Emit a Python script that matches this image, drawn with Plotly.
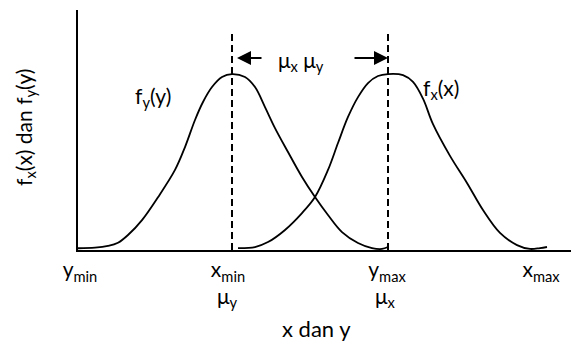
import plotly.graph_objects as go

# fy(y) curve (left bell)
fy_x = [0, 17, 30, 40, 50, 64, 80, 97, 107, 117, 125, 134, 144, 154, 167, 177, 187, 197, 210, 224, 237, 250, 264, 280, 294, 304, 310]
fy_y = [0.01, 0.013, 0.023, 0.041, 0.085, 0.17, 0.30, 0.455, 0.585, 0.739, 0.841, 0.926, 0.983, 1.0, 0.983, 0.926, 0.8125, 0.693, 0.557, 0.415, 0.301, 0.199, 0.102, 0.04, 0.011, 0.006, 0.017]

# fx(x) curve (right bell)
fx_x = [160, 177, 190, 207, 224, 237, 250, 260, 270, 280, 290, 300, 310, 325, 335, 345, 355, 372, 389, 405, 422, 439, 452, 462, 469]
fx_y = [0.011, 0.017, 0.045, 0.114, 0.21, 0.301, 0.455, 0.608, 0.756, 0.869, 0.949, 0.989, 1.0, 0.994, 0.955, 0.860, 0.715, 0.535, 0.381, 0.227, 0.097, 0.028, 0.006, 0.011, 0.017]

# mean positions (dashed lines)
mean_x = [154, 310]
dash_top = 1.239

# tick labels
tick_vals = [2, 150, 309, 463]
tick_text = ["y<sub>min</sub>", "x<sub>min</sub>", "y<sub>max</sub>", "x<sub>max</sub>"]
mu_vals = [149, 307]
mu_text = ["μ<sub>y</sub>", "μ<sub>x</sub>"]

FONT = "Lato"
FS = 21

fig = go.Figure()
fig.add_trace(go.Scatter(x=fy_x, y=fy_y, mode="lines", line=dict(color="black", width=1.8, shape="spline", smoothing=1.0), hoverinfo="skip"))
fig.add_trace(go.Scatter(x=fx_x, y=fx_y, mode="lines", line=dict(color="black", width=1.8, shape="spline", smoothing=1.0), hoverinfo="skip"))
for mx in mean_x:
    fig.add_trace(go.Scatter(x=[mx, mx], y=[0, dash_top], mode="lines", line=dict(color="black", width=2, dash="7px,4px"), hoverinfo="skip"))

tf = dict(family=FONT, size=FS, color="black")
ctr = dict(xanchor="center", yanchor="middle", showarrow=False)
ann = []
# arrows
ann.append(dict(x=159, y=1.091, ax=185, ay=1.091, xref="x", yref="y", axref="x", ayref="y", text="", showarrow=True, arrowhead=2, arrowsize=1.4, arrowwidth=2, arrowcolor="black"))
ann.append(dict(x=310, y=1.091, ax=275, ay=1.091, xref="x", yref="y", axref="x", ayref="y", text="", showarrow=True, arrowhead=2, arrowsize=1.4, arrowwidth=2, arrowcolor="black"))
ann.append(dict(x=223, y=1.075, xref="x", yref="y", text="μ<sub>x</sub> μ<sub>y</sub>", font=tf, **ctr))
# curve labels
ann.append(dict(x=75, y=0.869, xref="x", yref="y", text="f<sub>y</sub>(y)", font=tf, **ctr))
ann.append(dict(x=363, y=0.915, xref="x", yref="y", text="f<sub>x</sub>(x)", font=tf, **ctr))
# mu row under the tick labels
for v, t in zip(mu_vals, mu_text):
    ann.append(dict(x=v, y=-0.195, xref="x", yref="paper", text=t, font=tf, **ctr))
# axis titles
ann.append(dict(x=238, y=-0.325, xref="x", yref="paper", text="x dan y", font=dict(family=FONT, size=22, color="black"), **ctr))
ann.append(dict(x=-0.106, y=0.5125, xref="paper", yref="paper", text="f<sub>x</sub>(x) dan f<sub>y</sub>(y)", textangle=-90, font=tf, **ctr))

fig.update_layout(
    width=571, height=337,
    margin=dict(l=70, r=0, t=2, b=95),
    paper_bgcolor="white", plot_bgcolor="white",
    showlegend=False,
    annotations=ann,
    font=tf,
)
fig.update_xaxes(range=[0, 501], showline=True, linecolor="black", linewidth=2, showgrid=False, zeroline=False,
                 tickmode="array", tickvals=tick_vals, ticktext=tick_text, ticks="", ticklen=0,
                 tickfont=tf)
fig.update_yaxes(range=[0, 1.364], showline=True, linecolor="black", linewidth=2, showgrid=False, zeroline=False,
                 showticklabels=False, ticks="")

fig.write_html("out.html")
